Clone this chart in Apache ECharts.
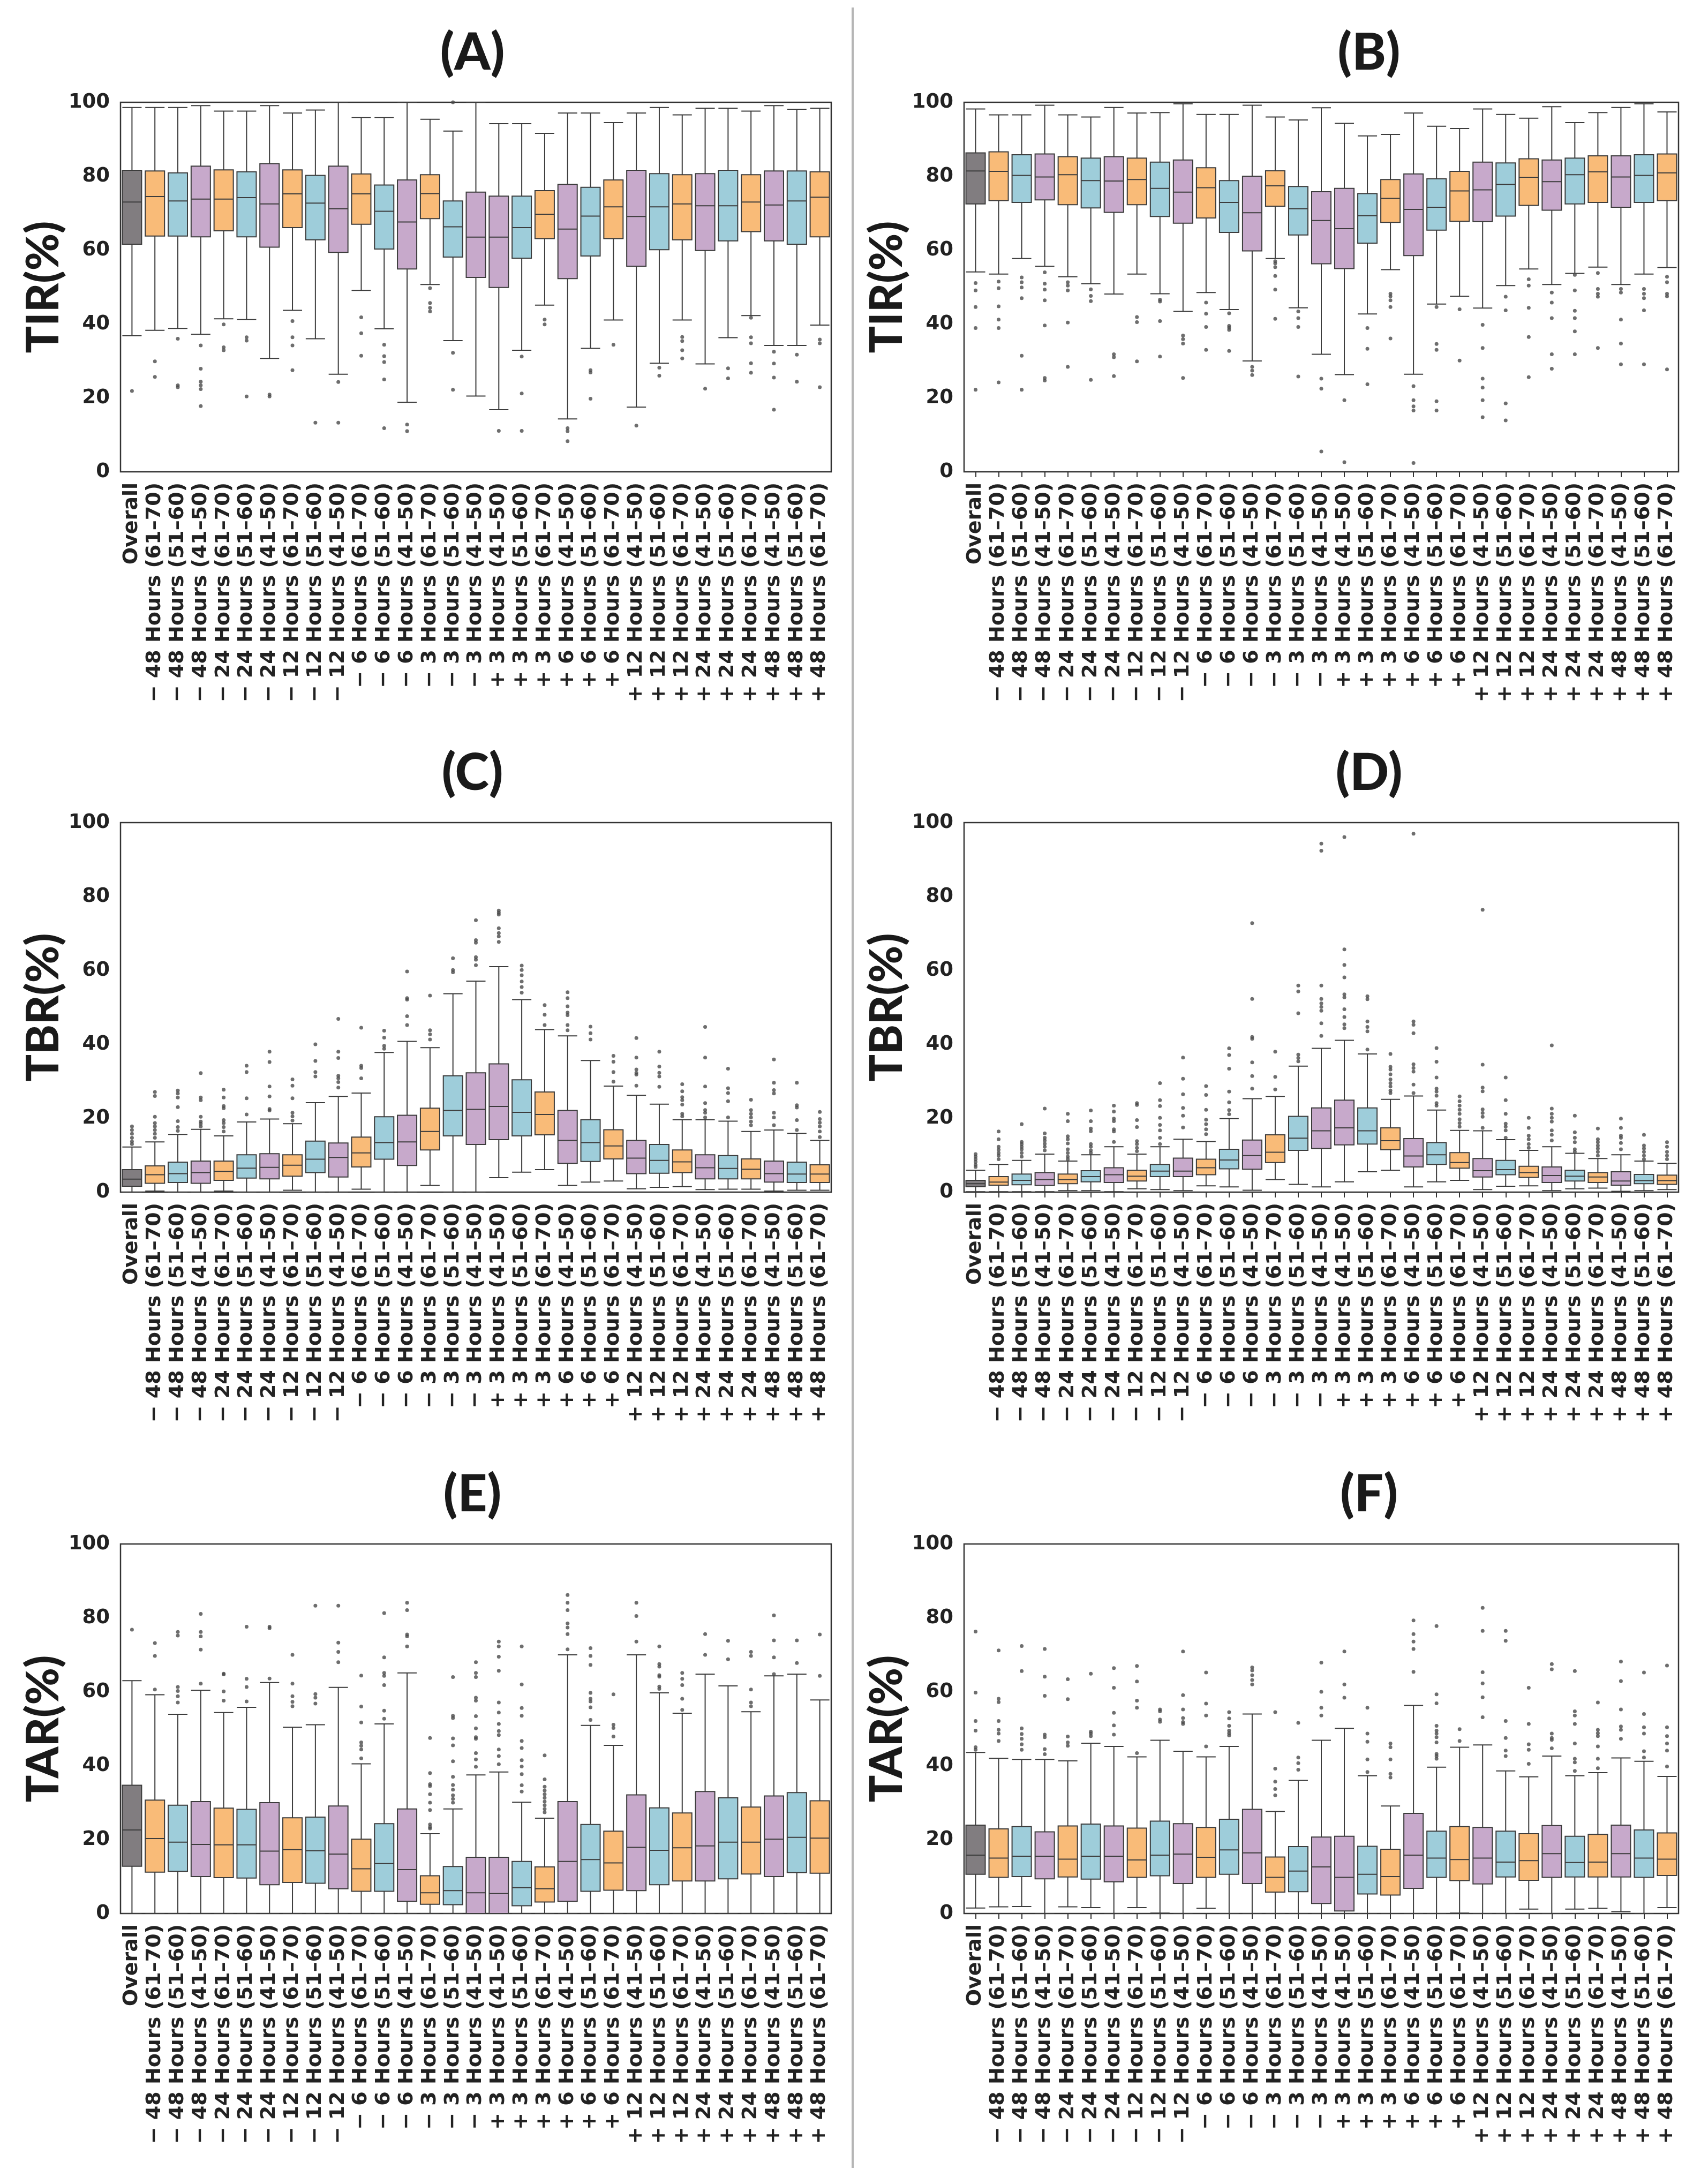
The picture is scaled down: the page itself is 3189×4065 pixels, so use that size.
<!DOCTYPE html>
<html>
<head>
<meta charset="utf-8">
<script src="https://cdn.jsdelivr.net/npm/echarts@6/dist/echarts.min.js"></script>
<style>
  html, body { margin: 0; padding: 0; background: #fff; }
  #main { width: 3189px; height: 4065px; }
</style>
</head>
<body>
<div id="main"></div>
<script>
// x tick labels (same for all six panels)
var categories = [
  'Overall',
  '\u2212 48 Hours (61\u201370)', '\u2212 48 Hours (51\u201360)', '\u2212 48 Hours (41\u201350)',
  '\u2212 24 Hours (61\u201370)', '\u2212 24 Hours (51\u201360)', '\u2212 24 Hours (41\u201350)',
  '\u2212 12 Hours (61\u201370)', '\u2212 12 Hours (51\u201360)', '\u2212 12 Hours (41\u201350)',
  '\u2212 6 Hours (61\u201370)', '\u2212 6 Hours (51\u201360)', '\u2212 6 Hours (41\u201350)',
  '\u2212 3 Hours (61\u201370)', '\u2212 3 Hours (51\u201360)', '\u2212 3 Hours (41\u201350)',
  '+ 3 Hours (41\u201350)', '+ 3 Hours (51\u201360)', '+ 3 Hours (61\u201370)',
  '+ 6 Hours (41\u201350)', '+ 6 Hours (51\u201360)', '+ 6 Hours (61\u201370)',
  '+ 12 Hours (41\u201350)', '+ 12 Hours (51\u201360)', '+ 12 Hours (61\u201370)',
  '+ 24 Hours (41\u201350)', '+ 24 Hours (51\u201360)', '+ 24 Hours (61\u201370)',
  '+ 48 Hours (41\u201350)', '+ 48 Hours (51\u201360)', '+ 48 Hours (61\u201370)'
];
var yTicks = [0, 20, 40, 60, 80, 100];
var panelTitles = ['(A)', '(B)', '(C)', '(D)', '(E)', '(F)'];
var yNames = ['TIR(%)', 'TIR(%)', 'TBR(%)', 'TBR(%)', 'TAR(%)', 'TAR(%)'];

// box stats per category: [low whisker, Q1, median, Q3, high whisker]
var statsA = [
  [36.8,61.6,73.0,81.6,98.6],[38.3,63.8,74.5,81.4,98.6],[38.8,63.8,73.3,80.9,98.6],[37.2,63.6,73.8,82.7,99.1],
  [41.4,65.2,73.8,81.7,97.6],[41.2,63.6,74.2,81.2,97.6],[30.7,60.8,72.5,83.4,99.1],[43.7,66.1,75.2,81.7,97.1],
  [36.0,62.8,72.7,80.2,97.9],[26.4,59.4,71.2,82.7,100],[49.1,67.0,75.2,80.6,95.9],[38.7,60.3,70.5,77.6,95.9],
  [18.8,54.9,67.6,79.0,100],[50.7,68.5,75.3,80.4,95.4],[35.5,58.1,66.3,73.3,92.2],[20.5,52.6,63.5,75.7,100],
  [16.8,49.9,63.5,74.6,94.2],[32.9,57.8,66.1,74.6,94.2],[45.1,63.1,69.7,76.1,91.6],[14.3,52.3,65.7,77.8,97.1],
  [33.4,58.4,69.2,77.0,97.1],[41.1,63.1,71.7,79.0,94.5],[17.5,55.6,69.1,81.6,97.1],[29.4,60.1,71.7,80.7,98.6],
  [41.1,62.8,72.5,80.4,96.6],[29.2,59.9,72.0,80.7,98.4],[36.3,62.5,72.0,81.6,98.4],[42.3,65.0,73.0,80.4,97.6],
  [34.2,62.5,72.2,81.4,99.1],[34.2,61.6,73.3,81.4,98.1],[39.7,63.6,74.3,81.2,98.4]
];
var outliersA = [
  [21.9],[29.9,25.7],[36.0,23.4,22.9],[34.2,27.9,24.4,23.4,22.4,17.8],[39.9,33.7,32.9],[36.4,35.5,20.4],
  [20.9,20.4],[40.8,36.4,34.2,27.5],[13.3],[24.3,13.3],[41.8,37.5,31.4],[34.4,31.3,29.7,25.0,11.8],
  [12.8,11.0],[49.7,45.7,44.4,43.4],[100,32.2,22.2],[],[11.1],[31.2,21.2,11.1],[41.2,39.9],[11.8,11.0,8.3],
  [27.5,26.9,19.8],[34.4],[12.5],[28.2,26.0],[36.5,35.4,32.9,30.7],[22.5],[28.0,25.3],[41.7,36.4,34.8,29.4,26.8],
  [32.5,29.3,25.5,16.8],[31.7,24.4],[35.8,34.8,22.9]
];

var statsB = [
  [54.1,72.5,81.4,86.3,98.2],[53.5,73.4,81.3,86.6,96.6],[57.7,72.9,80.2,85.8,96.6],[55.6,73.6,79.8,86.0,99.2],
  [52.8,72.3,80.4,85.3,96.6],[50.9,71.4,78.8,84.9,96.0],[48.1,70.2,78.7,85.3,98.6],[53.5,72.3,79.1,84.9,97.1],
  [48.2,69.1,76.7,83.8,97.2],[43.4,67.3,75.7,84.4,99.6],[48.5,68.7,76.9,82.3,96.7],[43.9,64.8,72.9,78.8,96.7],
  [30.0,59.8,70.1,80.0,99.2],[57.7,71.9,77.4,81.5,96.0],[44.4,64.1,71.2,77.2,95.2],[31.8,56.3,68.0,75.8,98.5],
  [26.3,55.0,65.8,76.7,94.3],[42.7,61.9,69.3,75.3,90.9],[54.7,67.5,74.0,79.1,91.3],[26.4,58.5,71.0,80.6,97.1],
  [45.4,65.4,71.6,79.3,93.5],[47.5,67.8,76.0,81.3,92.9],[44.3,67.7,76.3,83.8,98.2],[50.4,69.2,77.8,83.6,96.7],
  [54.9,72.1,79.7,84.7,95.7],[50.7,70.8,78.5,84.4,98.8],[53.7,72.5,80.4,84.9,94.5],[55.4,72.9,81.2,85.5,97.2],
  [50.7,71.6,79.8,85.5,98.6],[53.5,72.9,80.2,85.8,99.6],[55.3,73.4,80.9,86.0,97.4]
];
var outliersB = [
  [51.1,49.1,44.6,38.9,22.2],[51.5,49.7,44.8,41.2,38.9,24.2],[52.6,51.3,49.9,47.0,31.4,22.2],
  [54.0,50.9,49.3,46.4,39.6,25.4,24.7],[51.3,50.4,49.1,40.4,28.4],[49.4,47.6,46.2,24.9],[31.8,31.0,25.9],
  [41.9,40.5,29.9],[46.6,46.1,40.8,31.2],[36.9,35.9,34.7,25.4],[45.8,42.8,39.2,33.0],[42.9,39.5,39.0,38.4,32.7],
  [28.4,27.4,26.2],[57.0,56.4,55.4,53.0,49.3,41.4],[43.4,41.6,39.2,25.8],[25.2,22.5,5.5],[19.4,2.6],
  [38.9,33.3,23.7],[48.2,47.5,46.4,44.6,36.1],[23.2,19.4,17.7,16.6,2.4],[44.6,34.6,33.0,19.1,16.6],[44.0,30.1],
  [39.8,33.5,25.2,22.8,19.4,14.8],[47.4,43.7,18.5,13.9],[52.1,50.4,44.4,36.5,25.6],[48.5,45.8,41.6,31.8,27.9],
  [53.3,49.1,43.6,41.6,38.0,31.8],[53.8,49.5,48.2,47.4,33.5],[49.5,48.5,41.2,34.7,29.1],[49.5,48.2,47.0,43.7,29.1],
  [52.8,51.3,48.2,47.5,27.7]
];

var statsC = [
  [0,1.6,3.5,6.1,12.2],[0.3,2.4,4.7,7.1,13.6],[0,2.6,5.0,8.1,15.6],[0,2.4,5.3,8.4,17.0],[0.3,3.2,5.6,8.4,15.2],
  [0,3.8,6.5,10.1,19.0],[0,3.6,6.7,10.4,19.8],[0.5,4.3,7.3,10.1,18.5],[0,5.3,8.9,13.8,24.2],[0,4.1,9.4,13.3,25.9],
  [0.8,6.8,10.6,14.9,26.8],[0,8.9,13.4,20.4,37.8],[0,7.2,13.6,20.8,40.8],[1.8,11.4,16.4,22.7,39.1],
  [0,15.2,22.1,31.5,53.7],[0,12.9,22.4,32.3,57.1],[3.9,14.2,23.2,34.7,61.0],[5.4,15.2,21.6,30.4,52.1],
  [6.1,15.5,21.0,27.1,44.0],[1.8,7.8,14.0,22.1,42.3],[2.7,8.3,13.4,19.6,35.6],[3.0,9.0,12.5,16.9,28.7],
  [0.9,5.0,9.2,14.0,26.2],[1.3,5.1,8.6,12.9,23.8],[1.5,5.3,8.2,11.4,19.6],[0.7,3.6,6.6,10.1,19.6],
  [0.8,3.6,6.4,9.9,19.2],[0.8,3.6,6.2,9.0,16.4],[0.3,2.7,5.0,8.4,16.8],[0.5,2.6,4.9,8.1,15.9],[0.5,2.6,4.9,7.4,14.0]
];
var outliersC = [
  [17.8,16.8,15.8,14.7,13.7,13.0],[27.1,26.0,20.4,18.7,17.8,16.8,15.8,14.7],[27.5,26.7,25.6,23.0,19.2,17.6,16.6],
  [32.2,25.6,24.9,20.4,19.1,18.5,17.8],[27.7,25.6,23.3,22.7,19.5,18.7,17.6,16.4],[34.2,32.5,25.4,21.0],
  [38.0,35.2,28.6,25.9,22.5,22.1],[30.5,28.8,25.4,21.5,20.5,19.4],[40.0,35.5,32.5,31.3],
  [46.9,38.0,36.3,31.5,30.8,29.8,28.3],[44.5,34.2,33.6,30.8],[43.7,41.8,39.6,38.8],[59.7,52.5,52.1,47.6,45.2],
  [53.2,43.8,42.7,41.3],[63.3,60.1,59.5],[73.6,68.2,67.5,63.6,62.9,61.4],[76.2,75.6,75.1,71.4,70.1,69.2,67.7],
  [61.3,60.1,58.7,57.0,55.5,54.0],[50.6,48.0,45.2],[54.1,52.5,50.3,48.6,47.9,45.2,43.8],[44.8,43.0,41.3],
  [36.9,35.3,32.5,29.9],[41.7,36.4,33.2,32.3,31.8,28.8],[38.0,34.0,32.3,31.3,28.5],
  [29.2,27.3,25.7,24.9,23.7,21.2,20.5],[44.7,36.4,28.6,24.1,22.2,21.5,20.2],[33.4,28.1,26.8,24.6,20.2],
  [25.0,22.2,21.2,20.2,19.1,18.1],[35.9,29.6,27.6,26.7,21.5,20.2,18.1],[29.6,23.5,22.9,19.5,16.8],
  [21.7,19.8,18.8,17.8,16.4,14.9]
];

var statsD = [
  [0.1,1.5,2.3,3.2,5.9],[0.1,1.9,2.7,4.2,7.5],[0.1,2.0,3.2,4.9,8.6],[0.1,1.8,3.4,5.3,10.3],[0.4,2.3,3.4,4.9,8.4],
  [0.4,2.8,4.2,5.8,10.1],[0.1,2.6,4.7,6.6,12.3],[0.9,3.0,4.3,5.9,10.3],[0.7,4.2,5.7,7.5,12.3],[0.4,4.2,5.7,9.2,14.3],
  [1.7,4.7,6.6,8.9,13.7],[1.4,6.3,8.7,11.6,19.9],[0.5,6.2,9.9,14.1,25.3],[3.4,8.0,10.8,15.5,25.9],
  [2.1,11.3,14.6,20.5,34.1],[1.4,11.8,16.6,22.8,38.9],[2.8,12.8,17.4,24.9,41.1],[5.5,13.0,16.6,22.8,37.4],
  [5.9,11.5,13.9,17.4,25.1],[1.4,6.8,9.8,14.5,26.0],[2.8,7.5,10.1,13.4,22.2],[3.2,6.5,8.0,10.7,16.7],
  [0.7,4.1,5.8,9.1,16.6],[1.6,4.7,6.1,8.6,14.2],[1.7,4.0,5.3,7.0,11.3],[0.4,2.6,4.5,6.8,12.3],
  [0.9,3.0,4.3,5.9,10.5],[1.1,2.6,4.1,5.3,9.1],[0.2,1.9,3.0,5.5,10.1],[0.4,2.3,3.1,4.8,8.4],[0.7,2.1,3.1,4.6,7.8]
];
var outliersD = [
  [10.3,9.6,8.9,8.2,7.4,6.8],[16.4,14.3,12.3,11.5,10.6,9.9,8.9],[18.4,13.6,13.0,12.3,11.6,10.6,9.6],
  [22.6,15.9,14.7,14.0,13.1,12.3,11.3],[21.2,19.2,15.1,14.3,13.2,11.6,10.6,9.6,8.9],
  [22.1,19.2,17.2,16.5,13.0,12.3,11.3,10.6],[23.4,21.8,19.9,19.2,17.0,16.4,13.6],
  [24.1,23.6,19.5,17.6,13.8,13.0,12.0,11.1],[29.5,24.9,23.3,20.1,18.2,16.7,14.7,13.0],
  [36.4,30.7,26.5,22.8,20.7,17.5],[28.7,26.3,22.3,19.6,18.4,17.0,15.7],[38.9,37.1,33.4,27.2,24.3,22.2,21.1],
  [72.8,52.3,42.0,41.5,35.1,31.4,28.0],[38.0,31.2,27.8],[55.9,54.3,48.4,37.2,36.3,35.4],
  [94.3,92.4,55.9,52.3,51.1,50.1,49.1,45.7,42.3],[96.1,65.7,61.5,58.1,53.5,52.7,49.5,47.4,45.4,44.4],
  [53.0,52.2,46.2,44.7,43.5,38.6],[37.4,33.9,33.2,31.9,30.5,29.5,28.6,27.5,26.8],
  [97.0,46.2,45.3,43.0,34.6,33.6,32.6,29.1,26.8],[39.0,35.3,31.0,28.0,27.2,26.1,24.1,23.4],
  [25.9,24.6,23.4,22.3,21.2,19.7,18.7,17.7],[76.4,34.5,28.3,27.3,22.4,21.4,20.4,17.4],
  [31.0,24.9,21.2,18.5,17.7,16.7,14.7],[20.1,17.4,15.3,14.3,13.0,12.0],[39.7,22.6,21.2,20.1,19.1,16.7,15.5,14.0],
  [20.7,16.2,14.7,13.5,11.6,10.9],[17.2,14.3,13.5,12.6,11.8,10.9,9.9],[19.9,17.4,15.3,14.7,13.3,11.6],
  [15.5,12.6,11.8,10.9,9.9,8.9],[13.5,12.3,10.9,9.9,8.9]
];

var statsE = [
  [0,12.8,22.6,34.7,63.0],[0,11.2,20.3,30.7,59.2],[0,11.4,19.3,29.3,53.9],[0,10.0,18.7,30.3,60.4],
  [0,9.7,18.6,28.5,54.4],[0,9.6,18.6,28.2,55.8],[0,7.8,16.9,30.0,62.5],[0,8.4,17.3,25.9,50.4],
  [0,8.2,17.0,26.1,51.1],[0,6.7,16.1,29.1,61.2],[0,6.0,12.1,20.1,40.5],[0,6.0,13.5,24.3,51.3],
  [0,3.3,11.9,28.3,65.1],[0,2.5,5.6,10.2,21.6],[0,2.4,6.2,12.7,28.3],[0,0,5.6,15.2,37.5],
  [0,0,5.4,15.2,38.3],[0,2.1,7.0,14.1,30.1],[0,3.1,6.7,12.6,25.8],[0,3.3,14.1,30.3,70.0],
  [0,6.0,14.6,24.1,50.9],[0,6.3,13.7,22.3,45.5],[0,6.2,17.9,32.1,70.0],[0,7.8,17.1,28.6,59.7],
  [0,8.8,17.8,27.2,54.2],[0,8.8,18.3,33.0,64.8],[0,9.4,19.3,31.3,61.6],[0,10.7,19.3,28.8,54.6],
  [0,10.0,20.1,31.8,64.3],[0,11.1,20.6,32.7,64.8],[0,10.9,20.4,30.5,57.8]
];
var outliersE = [
  [76.8],[73.2,69.7,60.6],[76.2,75.2,61.3,60.2,58.8,57.1],[81.1,76.2,75.0,71.4,62.2],[64.9,64.7,60.1,57.6],
  [77.6,63.5,61.3,57.4],[77.6,77.2,63.6],[70.0,62.2,58.8,57.3,56.1],[83.3,59.4,58.4,56.8],[83.3,73.3,70.8,68.0],
  [64.4,56.0,51.7,46.3,45.4,44.4,42.0],[81.3,69.3,65.1,64.3,61.8,54.9,52.7],[84.1,82.1,75.5,75.0,72.3],
  [47.5,38.0,35.0,34.5,32.3,30.0,28.0,24.1,23.4,23.0],
  [64.0,53.5,52.9,47.4,45.5,41.2,37.0,34.8,33.5,32.0,31.0,30.0],
  [68.0,65.1,64.0,58.4,57.6,53.4,50.1,47.7,47.3,43.4,41.7,39.7],
  [73.6,72.3,69.5,65.7,57.1,54.4,51.3,49.4,48.3,44.4,42.6,40.4],
  [72.3,62.0,55.6,53.5,46.7,44.8,41.5,39.8,37.7,34.7,33.0],
  [42.8,36.3,34.3,33.3,32.3,31.3,30.3,29.3,28.3,27.4],
  [86.2,84.1,82.1,78.5,77.4,75.6,71.5],[71.8,69.7,67.3,59.7,58.1,57.4,55.8,52.4],[59.3,51.1,50.2,47.9],
  [84.1,80.5,73.6],[72.3,67.5,66.8,64.5,64.1,61.4,60.8],[65.1,63.5,61.8,58.1,55.1],[75.6,70.0],[73.8,68.8],
  [70.8,69.7,60.6,57.1,56.1],[80.7,73.9,69.3,64.8],[73.9,67.8],[75.5,64.3]
];

var statsF = [
  [1.5,10.6,15.8,23.9,43.6],[1.8,9.8,15.0,22.9,42.0],[1.9,10.0,15.5,23.5,41.7],[0,9.4,15.5,22.1,41.7],
  [1.8,9.9,14.7,23.7,41.3],[1.6,9.3,15.5,24.2,46.1],[0,8.6,15.5,23.7,45.2],[1.6,9.8,14.5,23.1,42.4],
  [0.1,10.2,15.8,25.0,46.9],[0,8.1,16.1,24.3,43.9],[1.4,9.8,15.2,23.3,42.4],[0,10.6,17.2,25.5,45.2],
  [0,8.1,16.4,28.2,54.0],[0,5.8,9.8,15.3,27.6],[0,5.9,11.5,18.1,36.0],[0,2.7,12.6,20.7,46.9],
  [0,0.7,9.8,20.9,50.1],[0,5.3,10.6,18.2,37.3],[0,5.0,10.0,17.4,29.1],[0,6.8,15.8,27.1,56.3],
  [0,9.8,15.0,22.3,39.6],[0.1,8.9,14.6,23.5,45.0],[0,8.0,15.0,23.3,45.6],[0,9.9,13.9,22.3,38.6],
  [1.2,9.0,14.3,21.6,37.0],[0,9.8,16.2,23.8,42.6],[1.2,9.9,13.8,20.9,37.3],[1.4,9.9,13.9,21.4,38.1],
  [0.5,9.9,16.2,23.9,42.1],[0,9.8,15.0,22.6,41.2],[1.6,10.3,14.7,21.8,37.1]
];
var outliersF = [
  [76.3,59.8,52.1,49.5,45.0,44.3],[71.2,58.1,57.2,52.1,49.7,48.7,46.7],[72.4,65.6,50.1,48.6,47.3,45.8,44.3],
  [71.6,64.1,58.9,48.4,47.7,44.5,43.1],[63.4,58.0,47.9,46.3,45.4],[64.9,49.2,48.7,48.0],
  [66.4,61.1,54.3,50.9,48.4],[67.0,62.8,57.6,55.7,43.4],[55.2,54.7,52.5,51.9],[70.9,59.1,55.2,52.9,51.8,51.3],
  [65.2,56.8,53.6,45.2],[54.5,52.8,50.8,49.5,48.8,48.2],[66.6,65.8,64.5,63.2,62.0],[54.5,39.2,35.7,33.7,32.0],
  [51.6,42.2,40.7,38.9],[67.9,60.0,55.7,53.6],[70.9,62.0,58.4],[55.7,48.7,46.5,41.7,38.3],
  [46.0,45.0,41.7,37.8,36.8],[79.3,75.6,73.6,71.6,65.4],
  [77.8,59.3,56.9,50.8,49.5,48.7,47.7,46.3,43.2,42.6,41.9],[49.9,46.7],[82.7,76.5,65.3,62.3,58.5,53.1],
  [76.5,73.8,52.1,47.5,44.1,42.6],[61.1,51.3,45.8,44.3,40.5],[67.5,66.1,48.7,47.5,47.0,44.7],
  [65.6,54.7,53.6,51.3,46.0,41.9,40.9,38.6],[57.1,49.7,48.8,48.0,45.2,41.9,39.3],[68.2,62.9,55.2,50.6,49.7,47.3],
  [65.2,54.0,50.4,48.7,43.9,42.2],[67.1,50.4,48.0,46.0,44.1,39.8]
];

var allStats = [statsA, statsB, statsC, statsD, statsE, statsF];
var allOutliers = [outliersA, outliersB, outliersC, outliersD, outliersE, outliersF];

// panel frames in page pixels
var colLeft = [225, 1800];
var colWidth = [1327, 1334];
var rowTop = [191, 1536, 2883];
var plotHeight = 690;
var titleCenterX = [882, 2556];

function boxColor(label) {
  if (label === 'Overall') return '#817d80';
  if (label.indexOf('61') >= 0) return '#f9bb78';
  if (label.indexOf('51') >= 0) return '#9ecdda';
  return '#c7a9cb';
}

var myChart = echarts.init(document.getElementById('main'), null, {width: 3189, height: 4065});

var grids = [], xAxes = [], yAxes = [], series = [], graphics = [];

for (var p = 0; p < 6; p++) {
  var col = p % 2, row = Math.floor(p / 2);
  grids.push({
    left: colLeft[col], top: rowTop[row], width: colWidth[col], height: plotHeight,
    show: true, borderColor: '#333', borderWidth: 2.5, backgroundColor: '#fff'
  });
  xAxes.push({
    type: 'category', gridIndex: p, data: categories,
    axisLine: {show: false},
    axisTick: {show: col === 1, alignWithLabel: true, length: 10, lineStyle: {color: '#333', width: 2}},
    axisLabel: {
      interval: 0, rotate: 90, margin: 20,
      fontFamily: 'DejaVu Sans', fontWeight: 'bold', fontSize: 38, color: '#222'
    },
    splitLine: {show: false}
  });
  yAxes.push({
    type: 'value', gridIndex: p, min: yTicks[0], max: yTicks[yTicks.length - 1], interval: 20,
    name: yNames[p], nameLocation: 'middle', nameGap: 98,
    nameTextStyle: {fontFamily: 'Lato', fontWeight: 900, fontSize: 84, color: '#1a1a1a'},
    axisLine: {show: false}, axisTick: {show: false}, splitLine: {show: false},
    axisLabel: {margin: 20, fontFamily: 'DejaVu Sans', fontWeight: 'bold', fontSize: 37, color: '#222'}
  });

  var boxData = allStats[p].map(function (s, i) {
    return {value: s, itemStyle: {color: boxColor(categories[i])}};
  });
  series.push({
    type: 'boxplot', xAxisIndex: p, yAxisIndex: p,
    boxWidth: [36, 36],
    itemStyle: {borderColor: '#3c3c3c', borderWidth: 2},
    emphasis: {disabled: true},
    data: boxData
  });

  var pts = [];
  allOutliers[p].forEach(function (vals, i) {
    vals.forEach(function (v) { pts.push([i, v]); });
  });
  series.push({
    type: 'scatter', xAxisIndex: p, yAxisIndex: p,
    symbolSize: 7, itemStyle: {color: '#4a4a4a'},
    emphasis: {disabled: true},
    data: pts
  });

  graphics.push({
    type: 'text', x: titleCenterX[col], y: rowTop[row] - 92,
    style: {
      text: panelTitles[p], fill: '#1a1a1a',
      font: '900 96px Lato', align: 'center', verticalAlign: 'middle'
    }
  });
}

// divider between the two columns
graphics.push({
  type: 'line', shape: {x1: 1592, y1: 14, x2: 1592, y2: 4048},
  style: {stroke: '#b5b5b5', lineWidth: 4}
});

option = {
  animation: false,
  backgroundColor: '#fff',
  grid: grids,
  xAxis: xAxes,
  yAxis: yAxes,
  series: series,
  graphic: graphics
};
myChart.setOption(option);
</script>
</body>
</html>
